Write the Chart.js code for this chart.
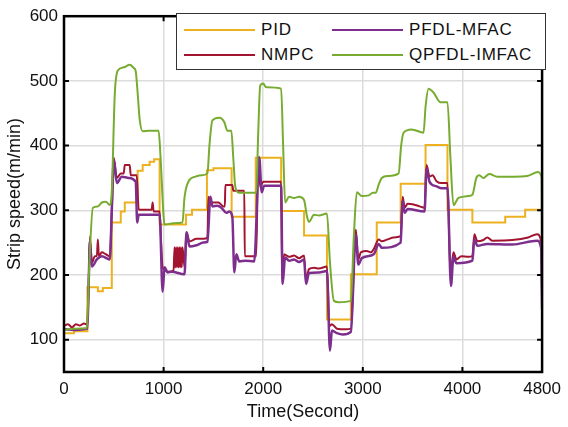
<!DOCTYPE html>
<html>
<head>
<meta charset="utf-8">
<script src="https://cdn.jsdelivr.net/npm/chart.js@4.4.1/dist/chart.umd.min.js"></script>
<style>
  body { margin: 0; background: #fff; }
  #wrap { position: relative; width: 568px; height: 427px; }
  #legend {
    position: absolute; left: 176px; top: 13px; width: 368px; height: 55px;
    background: #fff; border: 1.5px solid #333;
    font: 17px "Liberation Sans", Arial, sans-serif; color: #111; letter-spacing: 0.8px;
  }
  .item { position: absolute; display: flex; align-items: center; height: 20px; }
  .item span.swatch { display: inline-block; width: 71px; height: 2.5px; margin-right: 6px; }
</style>
</head>
<body>
<div id="wrap">
  <canvas id="chart" width="568" height="427"></canvas>
  <div id="legend">
    <div class="item" style="left:7px;top:6px"><span class="swatch" style="background:#EDB120"></span>PID</div>
    <div class="item" style="left:155px;top:6px"><span class="swatch" style="background:#7E2F8E"></span>PFDL-MFAC</div>
    <div class="item" style="left:7px;top:31px"><span class="swatch" style="background:#A2142F"></span>NMPC</div>
    <div class="item" style="left:155px;top:31px"><span class="swatch" style="background:#77AC30"></span>QPFDL-IMFAC</div>
  </div>
</div>
<script>
// strip speed under each controller, time in seconds
const X_TICKS = [0, 1000, 2000, 3000, 4000, 4800];
const Y_TICKS = [100, 200, 300, 400, 500, 600];

// PID: each value holds from its time until the next one
const PID_T = [0, 100, 235, 340, 390, 480, 570, 610, 740, 790, 860, 905, 960, 1225, 1285, 1435, 1500, 1683,
  1925, 2180, 2410, 2640, 2880, 3140, 3380, 3630, 3850, 4100, 4430, 4630, 4800];
const PID_V = [110, 113, 181, 175, 180, 281, 298, 312, 361, 370, 375, 379, 278, 293, 301, 362, 365, 290,
  381, 299, 261, 131, 201, 281, 341, 401, 301, 281, 290, 301, 303];

const NMPC_T = [0, 40, 80, 120, 160, 200, 235, 250, 260, 280, 310, 330, 340, 350, 380, 420, 460, 480, 500, 530,
  570, 600, 610, 660, 670, 730, 750, 880, 890, 900, 960, 975, 990, 1050, 1100,
  1110, 1118, 1126, 1134, 1142, 1150, 1158, 1166, 1174, 1182, 1190, 1210, 1230, 1260, 1330, 1400, 1440,
  1450, 1480, 1550, 1600, 1615, 1620, 1690, 1700, 1810, 1815, 1930, 1950, 1970, 2000, 2180, 2190, 2210,
  2260, 2310, 2360, 2410, 2430, 2460, 2510, 2560, 2640, 2665, 2690, 2740, 2830, 2880, 2930, 2955, 2980,
  3040, 3080, 3110, 3160, 3190, 3250, 3310, 3380, 3400, 3420, 3450, 3510, 3570, 3620, 3640, 3670, 3700,
  3740, 3790, 3850, 3880, 3910, 3940, 3990, 4060, 4100, 4120, 4150, 4210, 4250, 4300, 4500, 4660, 4750,
  4790, 4800];
const NMPC_V = [121, 124, 119, 124, 122, 125, 123, 200, 259, 219, 229, 229, 255, 229, 235, 232, 229, 300, 381, 350,
  357, 357, 370, 370, 354, 354, 301, 301, 312, 298, 298, 250, 212, 205, 207,
  243, 212, 243, 212, 243, 212, 243, 212, 243, 212, 243, 212, 266, 252, 256, 256, 258,
  321, 312, 312, 306, 306, 339, 339, 330, 330, 229, 229, 382, 336, 344, 344, 193, 232,
  228, 230, 226, 230, 193, 209, 211, 210, 213, 121, 124, 117, 116, 117, 270, 224, 235,
  237, 235, 240, 255, 252, 255, 258, 260, 321, 304, 310, 309, 306, 304, 370, 352, 354,
  345, 342, 342, 200, 235, 224, 229, 228, 229, 263, 252, 254, 258, 253, 254, 258, 263,
  252, 160];

const PFDL_T = [0, 100, 235, 250, 260, 280, 330, 380, 460, 480, 500, 530, 580, 650, 720, 735, 750, 960, 990,
  1010, 1040, 1080, 1210, 1230, 1260, 1330, 1400, 1440, 1470, 1490, 1540, 1580, 1630, 1660, 1690, 1710,
  1730, 1760, 1820, 1910, 1960, 1985, 2010, 2180, 2195, 2220, 2260, 2310, 2360, 2410, 2430, 2460, 2560,
  2640, 2670, 2690, 2740, 2800, 2880, 2930, 2955, 2990, 3110, 3160, 3190, 3380, 3400, 3420, 3450, 3620,
  3640, 3670, 3740, 3790, 3850, 3885, 3910, 3940, 4100, 4120, 4150, 4250, 4500, 4750, 4790, 4800];
const PFDL_V = [116, 115, 117, 200, 252, 213, 224, 229, 224, 300, 378, 342, 352, 350, 344, 281, 293, 293, 174,
  212, 204, 205, 201, 266, 244, 246, 250, 251, 321, 306, 307, 304, 296, 298, 290, 204,
  232, 221, 222, 221, 382, 328, 338, 338, 186, 227, 222, 224, 220, 224, 186, 203, 204,
  206, 83, 114, 110, 108, 112, 262, 216, 226, 232, 248, 242, 250, 315, 296, 302, 298,
  365, 344, 337, 334, 334, 183, 228, 218, 222, 255, 245, 248, 247, 253, 242, 147];

const QPFDL_T = [0, 100, 230, 250, 290, 340, 380, 420, 460, 480, 510, 540, 600, 660, 700, 720, 740, 760, 790,
  850, 950, 970, 1000, 1010, 1100, 1190, 1210, 1260, 1320, 1380, 1440, 1460, 1490, 1560, 1610, 1640, 1680,
  1700, 1720, 1760, 1930, 1950, 1970, 2000, 2030, 2180, 2200, 2220, 2260, 2310, 2360, 2410, 2440, 2460,
  2510, 2560, 2640, 2670, 2710, 2760, 2880, 2910, 2940, 2990, 3060, 3100, 3130, 3160, 3190, 3250, 3360,
  3385, 3410, 3490, 3610, 3630, 3660, 3710, 3780, 3850, 3880, 3910, 3960, 4060, 4100, 4140, 4170, 4210,
  4270, 4350, 4520, 4650, 4760, 4795, 4800];
const QPFDL_V = [115, 117, 118, 200, 304, 306, 312, 313, 308, 330, 480, 516, 521, 525, 520, 515, 480, 440, 422,
  423, 423, 380, 290, 278, 280, 281, 320, 347, 352, 354, 357, 400, 439, 443, 436, 423, 423,
  380, 336, 327, 327, 420, 493, 496, 490, 488, 400, 312, 321, 319, 321, 316, 290, 282,
  293, 292, 295, 220, 160, 158, 160, 260, 328, 322, 323, 327, 327, 340, 350, 353, 357,
  400, 420, 425, 420, 460, 488, 482, 467, 467, 380, 308, 319, 322, 324, 350, 354, 350,
  356, 352, 352, 353, 359, 350, 173];

function pts(t, v) {
  return t.map((x, i) => ({ x: x, y: v[i] }));
}

// inward tick marks and the black frame drawn on top of the lines
const frame = {
  id: "frame",
  afterDatasetsDraw(chart) {
    const ctx = chart.ctx;
    const a = chart.chartArea;
    const xs = chart.scales.x, ys = chart.scales.y;
    ctx.save();
    ctx.strokeStyle = "#000";
    ctx.lineWidth = 2;
    ctx.beginPath();
    X_TICKS.slice(1, -1).forEach(t => {
      const px = xs.getPixelForValue(t);
      ctx.moveTo(px, a.bottom); ctx.lineTo(px, a.bottom - 5);
      ctx.moveTo(px, a.top); ctx.lineTo(px, a.top + 5);
    });
    Y_TICKS.slice(0, -1).forEach(t => {
      const py = ys.getPixelForValue(t);
      ctx.moveTo(a.left, py); ctx.lineTo(a.left + 5, py);
      ctx.moveTo(a.right, py); ctx.lineTo(a.right - 5, py);
    });
    ctx.stroke();
    ctx.lineWidth = 2.5;
    ctx.strokeRect(a.left, a.top, a.right - a.left, a.bottom - a.top);
    ctx.restore();
  }
};

const TICK_FONT = { family: "'Liberation Sans', Arial, sans-serif", size: 17 };
const TITLE_FONT = { family: "'Liberation Sans', Arial, sans-serif", size: 18 };

function line(label, color, t, v, order, extra) {
  return Object.assign({
    label: label,
    data: pts(t, v),
    borderColor: color,
    backgroundColor: color,
    borderWidth: 2,
    pointRadius: 0,
    fill: false,
    order: order,
    cubicInterpolationMode: "monotone"
  }, extra || {});
}

new Chart(document.getElementById("chart"), {
  type: "line",
  data: {
    datasets: [
      line("PID", "#EDB120", PID_T, PID_V, 4, { stepped: "before", cubicInterpolationMode: "default" }),
      line("NMPC", "#A2142F", NMPC_T, NMPC_V, 3),
      line("PFDL-MFAC", "#7E2F8E", PFDL_T, PFDL_V, 2, { borderWidth: 2.5 }),
      line("QPFDL-IMFAC", "#77AC30", QPFDL_T, QPFDL_V, 1)
    ]
  },
  options: {
    responsive: false,
    animation: false,
    devicePixelRatio: 1,
    layout: { padding: { top: 15, right: 22, left: 0, bottom: 0 } },
    plugins: { legend: { display: false }, tooltip: { enabled: false } },
    scales: {
      x: {
        type: "linear",
        min: 0,
        max: 4800,
        afterBuildTicks: s => { s.ticks = X_TICKS.map(v => ({ value: v })); },
        afterFit: s => { s.height = 55; },
        grid: { color: "#dcdcdc", lineWidth: 1.5, drawTicks: false },
        border: { display: false },
        ticks: { font: TICK_FONT, color: "#111", padding: 7, maxRotation: 0, callback: v => String(v) },
        title: { display: true, text: "Time(Second)", font: TITLE_FONT, color: "#111", padding: { top: 0, bottom: 4 } }
      },
      y: {
        min: 50,
        max: 600,
        afterBuildTicks: s => { s.ticks = Y_TICKS.map(v => ({ value: v })); },
        afterFit: s => { s.width = 64; },
        grid: { color: "#dcdcdc", lineWidth: 1.5, drawTicks: false },
        border: { display: false },
        ticks: { font: TICK_FONT, color: "#111", padding: 6, callback: v => String(v) },
        title: { display: true, text: "Strip speed(m/min)", font: TITLE_FONT, color: "#111", padding: { top: 4, bottom: 0 } }
      }
    }
  },
  plugins: [frame]
});
</script>
</body>
</html>
